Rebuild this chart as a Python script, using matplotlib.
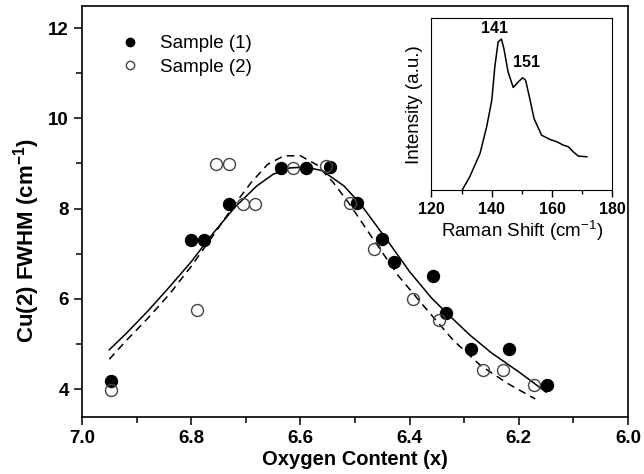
import matplotlib
matplotlib.use("Agg")
import matplotlib.pyplot as plt
from matplotlib.ticker import MultipleLocator

plt.rcParams["font.family"] = ["Liberation Sans", "DejaVu Sans"]
plt.rcParams["mathtext.fontset"] = "custom"
plt.rcParams["mathtext.rm"] = "Liberation Sans"
plt.rcParams["mathtext.bf"] = "Liberation Sans:bold"

# FWHM of the Cu(2) mode vs oxygen content
s1_x = [6.947, 6.800, 6.776, 6.731, 6.636, 6.590, 6.545, 6.496, 6.450,
        6.429, 6.358, 6.333, 6.288, 6.218, 6.149]
s1_y = [4.18, 7.31, 7.31, 8.10, 8.89, 8.89, 8.93, 8.13, 7.32,
        6.82, 6.50, 5.69, 4.89, 4.89, 4.08]
s2_x = [6.947, 6.789, 6.754, 6.731, 6.706, 6.684, 6.613, 6.554, 6.510,
        6.466, 6.393, 6.346, 6.265, 6.229, 6.172]
s2_y = [3.98, 5.75, 8.99, 8.99, 8.10, 8.10, 8.90, 8.95, 8.12,
        7.11, 6.00, 5.53, 4.42, 4.42, 4.08]

# fitted curves
fit1_x = [6.95, 6.92, 6.88, 6.84, 6.80, 6.76, 6.72, 6.68, 6.65, 6.62, 6.59,
          6.56, 6.52, 6.49, 6.44, 6.40, 6.36, 6.33, 6.29, 6.25, 6.20, 6.15]
fit1_y = [4.87, 5.22, 5.72, 6.26, 6.82, 7.45, 8.03, 8.50, 8.76, 8.90, 8.92,
          8.84, 8.50, 8.10, 7.28, 6.60, 6.02, 5.66, 5.20, 4.80, 4.38, 3.93]
fit2_x = [6.95, 6.92, 6.88, 6.84, 6.80, 6.76, 6.72, 6.69, 6.66, 6.63,
          6.60, 6.57, 6.54, 6.51, 6.47, 6.42, 6.37, 6.32, 6.27, 6.22, 6.17]
fit2_y = [4.66, 5.06, 5.56, 6.10, 6.72, 7.40, 8.10, 8.58, 8.98, 9.17,
          9.17, 8.97, 8.58, 8.10, 7.38, 6.50, 5.78, 5.08, 4.52, 4.12, 3.78]

# inset Raman spectrum (arb. units)
raman_x = [130.3, 132.7, 136.1, 138.3, 140.0, 141.0, 142.1, 143.2, 144.0,
           145.4, 147.1, 148.8, 150.2, 151.2, 152.7, 154.0, 156.5, 159.3,
           161.5, 163.7, 165.4, 167.0, 168.7, 171.5]
raman_y = [0.004, 0.078, 0.214, 0.369, 0.524, 0.718, 0.864, 0.880, 0.825,
           0.689, 0.598, 0.631, 0.654, 0.641, 0.524, 0.417, 0.320, 0.295,
           0.282, 0.262, 0.252, 0.223, 0.198, 0.194]
peak_labels = ["141", "151"]
peak_pos = [(140.8, 0.90), (151.6, 0.70)]

fig = plt.figure(figsize=(6.44, 4.74), dpi=100)
ax = fig.add_axes([0.1273, 0.1203, 0.8479, 0.867])

ax.plot(fit1_x, fit1_y, color="black", lw=1.1, zorder=2)
ax.plot(fit2_x, fit2_y, color="black", lw=1.1, dashes=(5, 3.5), zorder=2)
ax.plot(s1_x, s1_y, "o", ms=8.6, color="black", zorder=3, label="Sample (1)")
ax.plot(s2_x, s2_y, "o", ms=8.6, mfc="none", mec="#444444", mew=1.0,
        zorder=3, label="Sample (2)")

ax.set_xlim(7.0, 6.0)
ax.set_ylim(3.38, 12.49)
ax.xaxis.set_major_locator(MultipleLocator(0.2))
ax.xaxis.set_minor_locator(MultipleLocator(0.1))
ax.yaxis.set_major_locator(MultipleLocator(2))
ax.yaxis.set_minor_locator(MultipleLocator(1))
ax.xaxis.set_major_formatter(lambda v, p: f"{v:.1f}")
ax.tick_params(which="both", direction="out", top=False, right=False, width=1.1)
ax.tick_params(which="major", length=6, labelsize=13.5)
ax.tick_params(which="minor", length=4)
for lab in ax.get_xticklabels() + ax.get_yticklabels():
    lab.set_fontweight("bold")
for sp in ax.spines.values():
    sp.set_linewidth(1.2)

ax.set_xlabel("Oxygen Content (x)", fontsize=14.5, fontweight="bold", labelpad=2)
ax.set_ylabel(r"Cu(2) FWHM (cm$^{\mathbf{-1}}$)", fontsize=16, fontweight="bold")
ax.yaxis.set_label_coords(-0.074, 0.43)

ax.legend(loc="upper left", bbox_to_anchor=(0.022, 0.97), frameon=False,
          fontsize=13.5, handletextpad=0.6, labelspacing=0.35, markerscale=0.7)

# inset
ins = fig.add_axes([0.670, 0.599, 0.281, 0.362])
ins.plot(raman_x, raman_y, color="black", lw=1.1)
for txt, (px, py) in zip(peak_labels, peak_pos):
    ins.text(px, py, txt, fontsize=11.5, fontweight="bold", ha="center", va="bottom")
ins.set_xlim(120, 180)
ins.set_ylim(0, 1)
ins.set_yticks([])
ins.xaxis.set_major_locator(MultipleLocator(20))
ins.xaxis.set_minor_locator(MultipleLocator(10))
ins.tick_params(which="both", direction="out", top=False, width=1.0)
ins.tick_params(which="major", length=5, labelsize=11.5)
ins.tick_params(which="minor", length=3)
for lab in ins.get_xticklabels():
    lab.set_fontweight("bold")
ins.set_xlabel(r"Raman Shift (cm$^{-1}$)", fontsize=13.5, labelpad=1)
ins.set_ylabel("Intensity (a.u.)", fontsize=13.5, labelpad=6)

fig.savefig("out.png", dpi=100)
